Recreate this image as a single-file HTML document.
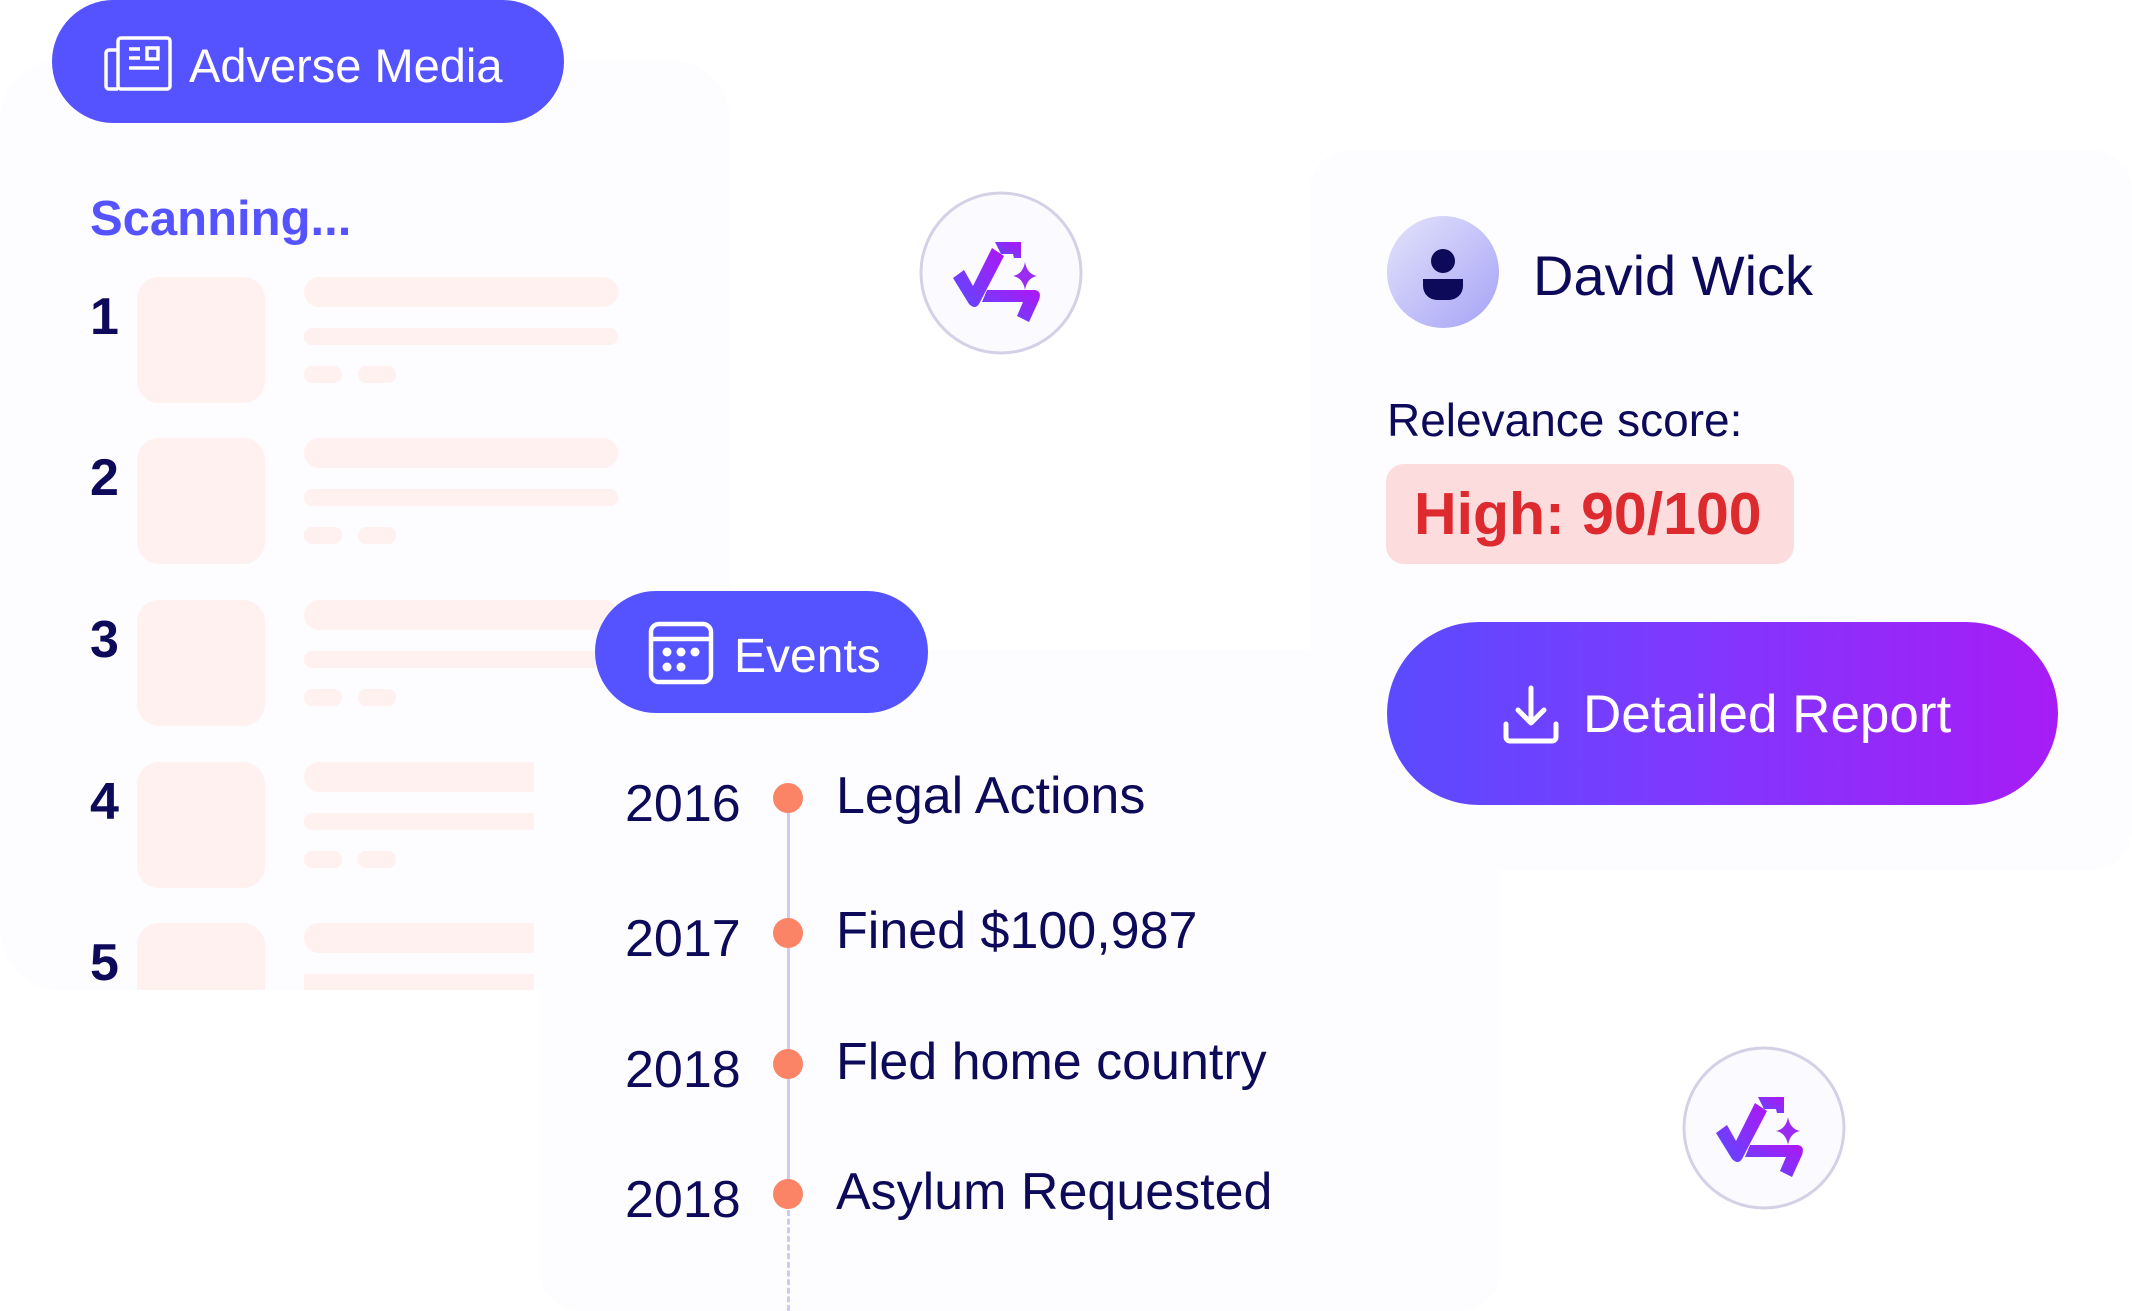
<!DOCTYPE html>
<html><head><meta charset="utf-8">
<style>
*{margin:0;padding:0;box-sizing:border-box}
body{width:2132px;height:1311px;background:#fff;position:relative;overflow:hidden;font-family:"Liberation Sans",sans-serif;color:#0d0a5a}
.a{position:absolute;white-space:nowrap}
.pill{position:absolute;background:#5553ff;border-radius:70px;color:#fff}
.sk{position:absolute;background:#fff1f0}
.num{position:absolute;left:90px;font-weight:bold;font-size:52px;line-height:1}
.yr{position:absolute;left:625px;font-size:52px;line-height:1}
.ev{position:absolute;left:836px;font-size:52px;line-height:1}
.dot{position:absolute;left:773px;width:30px;height:30px;border-radius:50%;background:#fb8466}
</style></head><body>

<div class="a" style="left:0;top:60px;width:730px;height:930px;border-radius:60px;background:#fdfcff"></div>
<div class="a" style="left:1310px;top:150px;width:822px;height:720px;border-radius:40px;background:#fdfcff"></div>
<div class="a" style="left:540px;top:650px;width:960px;height:661px;border-radius:40px;background:#fdfdff"></div>

<div class="pill" style="left:52px;top:0;width:512px;height:123px;"></div>
<svg class="a" style="left:104px;top:36px" width="70" height="56" viewBox="0 0 70 56" fill="none" stroke="#fff" stroke-width="3.5">
 <rect x="14" y="2" width="52" height="51" rx="3"/>
 <path d="M14 14 H5 a3 3 0 0 0 -3 3 V50 a3 3 0 0 0 3 3 H14"/>
 <path d="M25 13h11M25 22h11M25 32h30"/>
 <rect x="43" y="12" width="11" height="11"/>
</svg>
<div class="a" style="left:189px;top:40px;font-size:47px;color:#fff;line-height:1.1">Adverse Media</div>

<div class="a" style="left:90px;top:193px;font-size:49px;font-weight:bold;color:#5553ff;line-height:1.1">Scanning...</div>

<div class="num" style="top:291px">1</div>
<div class="num" style="top:452px">2</div>
<div class="num" style="top:614px">3</div>
<div class="num" style="top:776px">4</div>
<div class="num" style="top:937px">5</div>

<div class="sk" style="left:137px;top:277px;width:128px;height:126px;border-radius:22px"></div>
<div class="sk" style="left:304px;top:277px;width:314px;height:30px;border-radius:15px"></div>
<div class="sk" style="left:304px;top:328px;width:314px;height:17px;border-radius:8px"></div>
<div class="sk" style="left:304px;top:366px;width:38px;height:17px;border-radius:8px"></div>
<div class="sk" style="left:358px;top:366px;width:38px;height:17px;border-radius:8px"></div>

<div class="sk" style="left:137px;top:438px;width:128px;height:126px;border-radius:22px"></div>
<div class="sk" style="left:304px;top:438px;width:314px;height:30px;border-radius:15px"></div>
<div class="sk" style="left:304px;top:489px;width:314px;height:17px;border-radius:8px"></div>
<div class="sk" style="left:304px;top:527px;width:38px;height:17px;border-radius:8px"></div>
<div class="sk" style="left:358px;top:527px;width:38px;height:17px;border-radius:8px"></div>

<div class="sk" style="left:137px;top:600px;width:128px;height:126px;border-radius:22px"></div>
<div class="sk" style="left:304px;top:600px;width:314px;height:30px;border-radius:15px"></div>
<div class="sk" style="left:304px;top:651px;width:314px;height:17px;border-radius:8px"></div>
<div class="sk" style="left:304px;top:689px;width:38px;height:17px;border-radius:8px"></div>
<div class="sk" style="left:358px;top:689px;width:38px;height:17px;border-radius:8px"></div>

<div class="sk" style="left:137px;top:762px;width:128px;height:126px;border-radius:22px"></div>
<div class="sk" style="left:304px;top:762px;width:230px;height:30px;border-radius:15px 0 0 15px"></div>
<div class="sk" style="left:304px;top:813px;width:230px;height:17px;border-radius:8px 0 0 8px"></div>
<div class="sk" style="left:304px;top:851px;width:38px;height:17px;border-radius:8px"></div>
<div class="sk" style="left:358px;top:851px;width:38px;height:17px;border-radius:8px"></div>

<div class="sk" style="left:137px;top:923px;width:128px;height:67px;border-radius:22px 22px 0 0"></div>
<div class="sk" style="left:304px;top:923px;width:230px;height:30px;border-radius:15px 0 0 15px"></div>
<div class="sk" style="left:304px;top:974px;width:230px;height:16px"></div>

<svg class="a" style="left:918px;top:190px" width="166" height="166" viewBox="0 0 166 166">
 <defs><linearGradient id="lg" x1="0" y1="1" x2="1" y2="0"><stop offset="0" stop-color="#5a4bff"/><stop offset="1" stop-color="#b016f5"/></linearGradient></defs>
 <circle cx="83" cy="83" r="80" fill="#fbfaff" stroke="#d3d1e6" stroke-width="3"/>
 <g transform="translate(-3,0)">
 <path d="M38 88 L49 80 L58 96 L77 58 L89 66 L64 114 Q60 120 54 114 Z" fill="url(#lg)"/>
 <path d="M80 52 L106 52 L106 68 L99 68 L98 64 L86 64 Z" fill="url(#lg)"/>
 <path d="M72 100 L120 100 Q127 101 124 110 L114 132 L102 126 L108 112 L67 112 Z" fill="url(#lg)"/>
 <path d="M110 72 Q112 84 122 86 Q112 88 110 100 Q108 88 98 86 Q108 84 110 72Z" fill="#9a2bf0"/>
 </g>
</svg>
<svg class="a" style="left:1681px;top:1045px" width="166" height="166" viewBox="0 0 166 166">
 <circle cx="83" cy="83" r="80" fill="#fbfaff" stroke="#d3d1e6" stroke-width="3"/>
 <g transform="translate(-3,0)">
 <path d="M38 88 L49 80 L58 96 L77 58 L89 66 L64 114 Q60 120 54 114 Z" fill="url(#lg)"/>
 <path d="M80 52 L106 52 L106 68 L99 68 L98 64 L86 64 Z" fill="url(#lg)"/>
 <path d="M72 100 L120 100 Q127 101 124 110 L114 132 L102 126 L108 112 L67 112 Z" fill="url(#lg)"/>
 <path d="M110 72 Q112 84 122 86 Q112 88 110 100 Q108 88 98 86 Q108 84 110 72Z" fill="#9a2bf0"/>
 </g>
</svg>

<div class="a" style="left:1387px;top:216px;width:112px;height:112px;border-radius:50%;background:linear-gradient(135deg,#e4e3fb,#a6a3f6)"></div>
<svg class="a" style="left:1420px;top:246px" width="46" height="56" viewBox="0 0 46 56">
 <circle cx="23" cy="15" r="12" fill="#0d0a5a"/>
 <path d="M3 33 H43 V40 a14 14 0 0 1 -14 14 H17 a14 14 0 0 1 -14 -14Z" fill="#0d0a5a"/>
</svg>
<div class="a" style="left:1533px;top:245px;font-size:56px;line-height:1.1">David Wick</div>

<div class="a" style="left:1387px;top:395px;font-size:46px;line-height:1.1">Relevance score:</div>
<div class="a" style="left:1386px;top:464px;width:408px;height:100px;border-radius:18px;background:#fddcdd"></div>
<div class="a" style="left:1414px;top:482px;font-size:59px;font-weight:bold;color:#dc2a2f;line-height:1.1">High: 90/100</div>

<div class="a" style="left:1387px;top:622px;width:671px;height:183px;border-radius:92px;background:linear-gradient(90deg,#5a4bff,#7b3bff 40%,#a71cf5)"></div>
<svg class="a" style="left:1501px;top:684px" width="60" height="62" viewBox="0 0 60 62" fill="none" stroke="#fff" stroke-width="5" stroke-linecap="round" stroke-linejoin="round">
 <path d="M30 4 V38 M17 26 L30 39 L43 26"/>
 <path d="M5 40 V53 a4 4 0 0 0 4 4 H51 a4 4 0 0 0 4 -4 V40"/>
</svg>
<div class="a" style="left:1583px;top:686px;font-size:53px;color:#fff;line-height:1.1">Detailed Report</div>

<div class="pill" style="left:595px;top:591px;width:333px;height:122px;border-radius:61px"></div>
<svg class="a" style="left:648px;top:621px" width="66" height="64" viewBox="0 0 66 64" fill="none" stroke="#fff" stroke-width="4.5">
 <rect x="3" y="3" width="60" height="58" rx="8"/>
 <path d="M3 18 H63"/>
 <g fill="#fff" stroke="none"><circle cx="19" cy="31" r="4.5"/><circle cx="33" cy="31" r="4.5"/><circle cx="47" cy="31" r="4.5"/><circle cx="19" cy="46" r="4.5"/><circle cx="33" cy="46" r="4.5"/></g>
</svg>
<div class="a" style="left:734px;top:631px;font-size:48px;color:#fff;line-height:1.1">Events</div>

<div class="a" style="left:787px;top:800px;width:3px;height:400px;background:#cdcbf6"></div>
<div class="a" style="left:787px;top:1210px;width:0;height:101px;border-left:3px dashed #cdcbf6"></div>
<div class="dot" style="top:783px"></div>
<div class="dot" style="top:918px"></div>
<div class="dot" style="top:1049px"></div>
<div class="dot" style="top:1179px"></div>

<div class="yr" style="top:778px">2016</div>
<div class="yr" style="top:913px">2017</div>
<div class="yr" style="top:1044px">2018</div>
<div class="yr" style="top:1174px">2018</div>

<div class="ev" style="top:770px">Legal Actions</div>
<div class="ev" style="top:905px">Fined $100,987</div>
<div class="ev" style="top:1036px">Fled home country</div>
<div class="ev" style="top:1166px">Asylum Requested</div>

</body></html>
